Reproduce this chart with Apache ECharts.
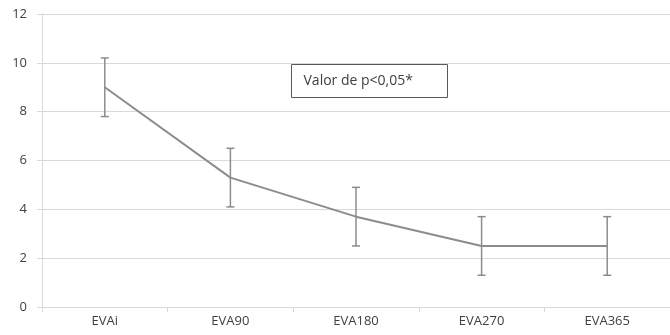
<!DOCTYPE html>
<html><head><meta charset="utf-8">
<script src="https://cdn.jsdelivr.net/npm/echarts@6/dist/echarts.min.js"></script>
<style>html,body{margin:0;padding:0;background:#fff}#c{width:670px;height:335px}</style>
</head><body><div id="c"></div>
<script>
const categories = ['EVAi','EVA90','EVA180','EVA270','EVA365'];
const means = [9.0, 5.3, 3.7, 2.5, 2.5];
const lower = [7.8, 4.1, 2.5, 1.3, 1.3];
const upper = [10.2, 6.5, 4.9, 3.7, 3.7];
const yTicks = [0, 2, 4, 6, 8, 10, 12];
const annotation = 'Valor de p<0,05*';

const chart = echarts.init(document.getElementById('c'));
const errData = categories.map((c, i) => [i, lower[i], upper[i]]);
chart.setOption({
  animation: false,
  grid: {left: 42, right: -3, top: 14, bottom: 28},
  xAxis: {
    type: 'category', data: categories, boundaryGap: true,
    axisLine: {lineStyle: {color: '#d9d9d9'}},
    axisTick: {show: true, length: 5, lineStyle: {color: '#d9d9d9'}},
    axisLabel: {color: '#404040', fontFamily: 'Open Sans', fontSize: 13, margin: 8}
  },
  yAxis: {
    type: 'value', min: yTicks[0], max: yTicks[yTicks.length-1], interval: 2,
    axisLine: {show: true, lineStyle: {color: '#d9d9d9'}},
    axisTick: {show: true, length: 5, lineStyle: {color: '#d9d9d9'}},
    axisLabel: {color: '#404040', fontFamily: 'Open Sans', fontSize: 13, margin: 15},
    splitLine: {lineStyle: {color: '#d9d9d9', width: 1}}
  },
  series: [
    {
      type: 'custom',
      data: errData,
      z: 2,
      renderItem: function (params, api) {
        const x = api.value(0);
        const lo = api.coord([x, api.value(1)]);
        const hi = api.coord([x, api.value(2)]);
        const w = 4;
        const st = {stroke: '#8c8c8c', lineWidth: 1.5};
        return {type: 'group', children: [
          {type: 'line', shape: {x1: lo[0], y1: lo[1], x2: hi[0], y2: hi[1]}, style: st},
          {type: 'line', shape: {x1: lo[0]-w, y1: lo[1], x2: lo[0]+w, y2: lo[1]}, style: st},
          {type: 'line', shape: {x1: hi[0]-w, y1: hi[1], x2: hi[0]+w, y2: hi[1]}, style: st}
        ]};
      }
    },
    {
      type: 'line', data: means, symbol: 'none', z: 3,
      lineStyle: {color: '#8c8c8c', width: 2}
    }
  ],
  graphic: [{
    type: 'group', left: 291, top: 64,
    children: [
      {type: 'rect', shape: {x: 0, y: 0, width: 156, height: 33}, style: {fill: '#fff', stroke: '#595959', lineWidth: 1}},
      {type: 'text', x: 12, y: 16.5, style: {text: annotation, fill: '#404040', font: '14px "Open Sans"', verticalAlign: 'middle'}}
    ]
  }]
});
</script></body></html>
